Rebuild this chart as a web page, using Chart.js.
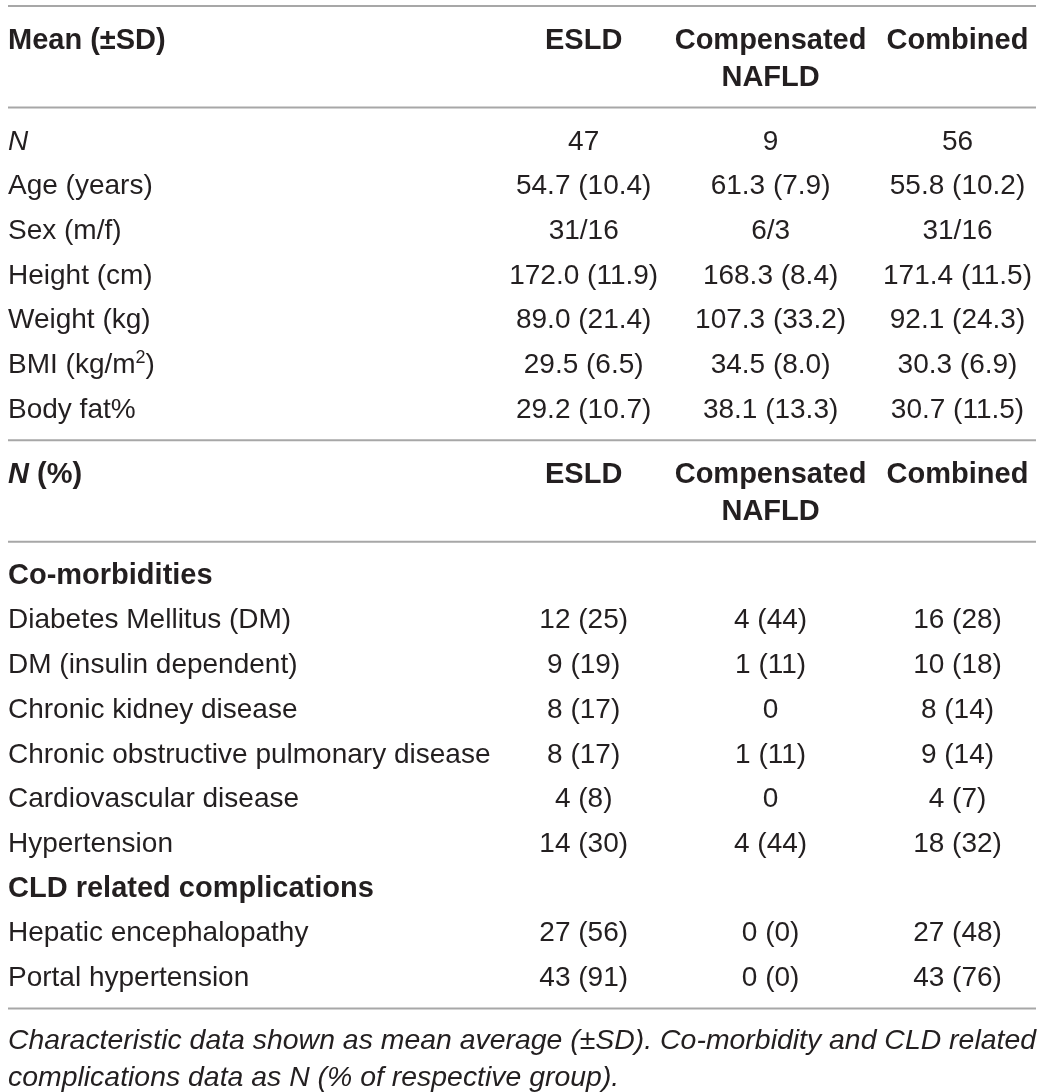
<!DOCTYPE html>
<html><head><meta charset="utf-8">
<script src="https://cdn.jsdelivr.net/npm/chart.js@4"></script>
<style>html,body{margin:0;padding:0;background:#fff}canvas{display:block}</style>
</head><body>
<canvas id="c" width="1043" height="1092"></canvas>
<script>
// ---------- DATA ----------
const columnHeaders = [['ESLD'], ['Compensated', 'NAFLD'], ['Combined']];
const section1Title = 'Mean (±SD)';
const section1Labels = ['<i>N</i>', 'Age (years)', 'Sex (m/f)', 'Height (cm)', 'Weight (kg)', 'BMI (kg/m<sup>2</sup>)', 'Body fat%'];
const section1ESLD = ['47', '54.7 (10.4)', '31/16', '172.0 (11.9)', '89.0 (21.4)', '29.5 (6.5)', '29.2 (10.7)'];
const section1Comp = ['9', '61.3 (7.9)', '6/3', '168.3 (8.4)', '107.3 (33.2)', '34.5 (8.0)', '38.1 (13.3)'];
const section1Comb = ['56', '55.8 (10.2)', '31/16', '171.4 (11.5)', '92.1 (24.3)', '30.3 (6.9)', '30.7 (11.5)'];
const section2Title = '<i>N</i> (%)';
const section2Labels = ['<b>Co-morbidities</b>', 'Diabetes Mellitus (DM)', 'DM (insulin dependent)', 'Chronic kidney disease',
  'Chronic obstructive pulmonary disease', 'Cardiovascular disease', 'Hypertension', '<b>CLD related complications</b>',
  'Hepatic encephalopathy', 'Portal hypertension'];
const section2ESLD = ['', '12 (25)', '9 (19)', '8 (17)', '8 (17)', '4 (8)', '14 (30)', '', '27 (56)', '43 (91)'];
const section2Comp = ['', '4 (44)', '1 (11)', '0', '1 (11)', '0', '4 (44)', '', '0 (0)', '0 (0)'];
const section2Comb = ['', '16 (28)', '10 (18)', '8 (14)', '9 (14)', '4 (7)', '18 (32)', '', '27 (48)', '43 (76)'];
const captionLines = ['<i>Characteristic data shown as mean average (±SD). Co-morbidity and CLD related</i>',
  '<i>complications data as N (% of respective group).</i>'];

// ---------- LAYOUT (styles / spacing) ----------
const FONT = '"Liberation Sans", Arial, Helvetica, sans-serif';
const TEXT_COLOR = '#231f20';
const RULE_COLOR = '#a7a7a7';
const SIZE = 28, BOLD_SIZE = 29;
const ROW = 44.7, TOP_RULE = 6, HEAD_FIRST = 42.5, HEAD_LINE = 37, AFTER_HEAD = 22,
      FIRST_ROW = 42, AFTER_BODY = 22.5, CAP_FIRST = 40, CAP_LINE = 37;
const X_MIN = -2.08, X_MAX = 3.42;
const COLS = [1, 2, 3];

const rules = [];
const labelPts = [];
const cellPts = [[], [], []];
let y = TOP_RULE;
rules.push(y);
function addSection(title, labels, vals) {
  y += HEAD_FIRST;
  labelPts.push({ x: X_MIN, y: y, t: '<b>' + title + '</b>' });
  columnHeaders.forEach((lines, c) => lines.forEach((ln, k) => {
    cellPts[c].push({ x: COLS[c], y: y + k * HEAD_LINE, t: '<b>' + ln + '</b>' });
  }));
  y += HEAD_LINE + AFTER_HEAD;
  rules.push(y);
  y += FIRST_ROW - ROW;
  labels.forEach((lab, r) => {
    y += ROW;
    labelPts.push({ x: X_MIN, y: y, t: lab });
    vals.forEach((arr, c) => { if (arr[r]) cellPts[c].push({ x: COLS[c], y: y, t: arr[r] }); });
  });
  y += AFTER_BODY;
  rules.push(y);
}
addSection(section1Title, section1Labels, [section1ESLD, section1Comp, section1Comb]);
addSection(section2Title, section2Labels, [section2ESLD, section2Comp, section2Comb]);
const capPts = [];
y += CAP_FIRST;
captionLines.forEach((ln, k) => capPts.push({ x: X_MIN, y: y + k * CAP_LINE, t: ln }));

// ---------- RICH TEXT ----------
function parseRich(s) {
  const parts = s.split(/(<\/?(?:i|b|sup)>)/);
  let st = { i: false, b: false, sup: false };
  const segs = [];
  for (const p of parts) {
    if (!p) continue;
    const m = p.match(/^<(\/?)(i|b|sup)>$/);
    if (m) { st = Object.assign({}, st, { [m[2]]: !m[1] }); continue; }
    segs.push(Object.assign({ text: p }, st));
  }
  return segs;
}
function segFont(seg) {
  let size = seg.b ? BOLD_SIZE : SIZE;
  if (seg.sup) size = Math.round(size * 0.64);
  return (seg.i ? 'italic ' : '') + (seg.b ? 'bold ' : '') + size + 'px ' + FONT;
}
function drawRich(ctx, s, x, y, align, fitWidth) {
  const segs = parseRich(s);
  let w = 0;
  segs.forEach(sg => { ctx.font = segFont(sg); sg.w = ctx.measureText(sg.text).width; w += sg.w; });
  ctx.save();
  let sx = 1;
  if (fitWidth) sx = fitWidth;
  let cx = align === 'center' ? x - w / 2 : x;
  ctx.translate(cx, y);
  ctx.scale(sx, 1);
  let px = 0;
  segs.forEach(sg => {
    ctx.font = segFont(sg);
    ctx.fillText(sg.text, px, sg.sup ? -10 : 0);
    px += sg.w;
  });
  ctx.restore();
  return w;
}

const textPlugin = {
  id: 'tableText',
  afterDatasetsDraw(chart) {
    const ctx = chart.ctx;
    ctx.save();
    ctx.fillStyle = TEXT_COLOR;
    ctx.textBaseline = 'alphabetic';
    ctx.textAlign = 'left';
    chart.data.datasets.forEach((ds, i) => {
      if (!ds.textRole) return;
      const meta = chart.getDatasetMeta(i);
      let fit = null;
      if (ds.textRole === 'caption') {
        // condense caption to span the table width
        const segs = parseRich(ds.data[0].t);
        let w = 0;
        segs.forEach(sg => { ctx.font = segFont(sg); w += ctx.measureText(sg.text).width; });
        fit = (chart.chartArea.right - chart.chartArea.left) / w;
      }
      meta.data.forEach((el, j) => {
        drawRich(ctx, ds.data[j].t, el.x, el.y, ds.textRole === 'cell' ? 'center' : 'left', fit);
      });
    });
    ctx.restore();
  }
};

const datasets = [];
rules.forEach(ry => datasets.push({
  data: [{ x: X_MIN, y: ry }, { x: X_MAX, y: ry }],
  showLine: true, borderColor: RULE_COLOR, borderWidth: 2, pointRadius: 0, clip: false
}));
datasets.push({ data: labelPts, textRole: 'label', pointRadius: 0, clip: false });
cellPts.forEach(pts => datasets.push({ data: pts, textRole: 'cell', pointRadius: 0, clip: false }));
datasets.push({ data: capPts, textRole: 'caption', pointRadius: 0, clip: false });

new Chart(document.getElementById('c').getContext('2d'), {
  type: 'scatter',
  data: { datasets },
  options: {
    responsive: false, animation: false, events: [],
    devicePixelRatio: 1,
    layout: { padding: { left: 8, right: 7, top: 0, bottom: 0 } },
    scales: {
      x: { type: 'linear', min: X_MIN, max: X_MAX, display: false },
      y: { type: 'linear', min: 0, max: 1092, reverse: true, display: false }
    },
    plugins: { legend: { display: false }, tooltip: { enabled: false }, title: { display: false } }
  },
  plugins: [textPlugin]
});
</script>
</body></html>
